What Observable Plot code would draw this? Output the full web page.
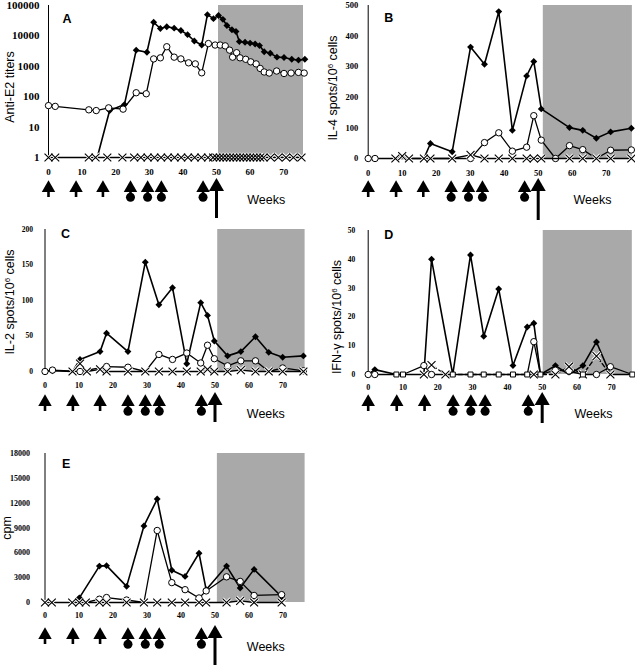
<!DOCTYPE html>
<html><head><meta charset="utf-8">
<script src="https://cdn.jsdelivr.net/npm/d3@7"></script>
<script src="https://cdn.jsdelivr.net/npm/@observablehq/plot@0.6"></script>
<style>
body{margin:0;background:#fff;}
#fig{position:relative;width:635px;height:665px;overflow:hidden;background:#fff;font-family:"Liberation Sans",Arial,sans-serif;}
.panel{position:absolute;}
.ylab{position:absolute;transform:translate(-50%,-50%) rotate(-90deg);white-space:nowrap;font-size:12.5px;color:#000;line-height:1;}
.ylab sup{font-size:8px;vertical-align:4px;line-height:0;}
</style></head><body><div id="fig"></div>
<script>
// ---------------- data ----------------
const weekTicks = [0, 10, 20, 30, 40, 50, 60, 70];
const immunizationWeeks = [0, 8.2, 16.2, 24.4, 29.5, 33.6, 46];
const boostWeeks = [24.4, 29.5, 33.6, 46];
const treatmentStartWeek = [50];

// Panel A: anti-E2 titers (log)
const aDiamondWeeks = [14.5, 18.2, 22.6, 26.1, 29.3, 31.3, 33.3, 35.2, 37.4, 39.4, 41.4, 43.4, 45.6, 47.3, 49.1, 50.6, 51.9, 53.1, 54.6, 55.8, 56.8, 58.5, 60, 61.5, 62.8, 64.2, 66, 68, 70.1, 72.4, 74.4, 76.3];
const aDiamondTiters = [1, 35, 55, 3400, 2900, 28000, 17500, 20000, 18000, 15000, 11000, 6800, 5000, 50000, 37000, 47000, 35000, 22000, 16000, 14000, 6500, 6200, 5800, 5400, 4800, 3000, 2700, 2000, 1950, 1700, 1600, 1700];
const aCircleWeeks = [0, 2, 12, 14.2, 17.9, 22.2, 26.1, 29.1, 31.3, 33.3, 35.2, 37.4, 39.4, 41.7, 43.7, 45.6, 47.6, 49.6, 51.1, 52.6, 53.9, 54.8, 56, 57, 58.7, 60.2, 61.8, 63, 64.2, 65.7, 67.9, 70.1, 72.2, 74.4, 76.1];
const aCircleTiters = [51, 48, 37, 35, 43, 39, 135, 125, 1750, 1900, 4400, 2000, 1750, 1300, 1200, 610, 5600, 5000, 5000, 4700, 3400, 2000, 2800, 1900, 1700, 1400, 1200, 850, 650, 600, 700, 580, 600, 630, 600];
const aCrossWeeks = [0, 2, 12, 14, 17.5, 22, 25.5, 27.5, 29.5, 31.5, 33.5, 35.5, 37.5, 39.5, 41.5, 43.5, 45.5, 47.5, 49, 50, 51, 52, 53, 54, 55, 56, 57, 58, 59, 60, 61, 62, 63, 64, 66.1, 68.4, 70.7, 72.9, 75.3];
const aCrossTiters = [1, 1, 1, 1, 1, 1, 1, 1, 1, 1, 1, 1, 1, 1, 1, 1, 1, 1, 1, 1, 1, 1, 1, 1, 1, 1, 1, 1, 1, 1, 1, 1, 1, 1, 1, 1, 1, 1, 1];
const aTicks = [1, 10, 100, 1000, 10000, 100000];
const aShade = [50.6, 75.9];

// Panel B: IL-4 spots
const bWeeks    = [0, 2, 8, 10, 12, 16.4, 18.3, 24.7, 30.1, 34.2, 38.4, 42.4, 46.6, 48.7, 50.9, 55.1, 59.2, 63.1, 67.1, 71.3, 77.4];
const bDiamond  = [null, null, null, null, null, 0, 49, 22, 364, 308, 480, 92, 270, 317, 162, null, 101, 92, 66, 87, 99];
const bCircle   = [0, 0, null, null, null, null, null, null, 0, 52, 84, 24, 37, 140, 60, 0, 42, 29, 0, 27, 28];
const bCross    = [null, null, 0, 8, 0, 0, 0, 0, 12, 0, 0, 0, 0, 0, 0, null, 0, 0, 0, 0, 0];
const bTicks = [0, 100, 200, 300, 400, 500];
const bShade = [51.5, 77.7];

// Panel C: IL-2 spots
const cWeeks    = [0, 2.2, 8.1, 10.3, 12.3, 16.2, 18.1, 24.4, 29.5, 33.5, 37.5, 41.7, 45.8, 47.8, 49.8, 53.7, 57.6, 61.9, 65.8, 69.9, 76];
const cDiamond  = [0, 1, 0, 17, null, 28, 54, 28, 154, 94, 118, 11, 97, 79, 43, 22, 28, 49, 27, 20, 22];
const cCircle   = [0, 2, null, 0, null, null, 7, 6, 0, 24, 17, 26, 12, 37, 18, 8, 15, 15, 0, 5, 1];
const cCross    = [null, null, 0, 11, 0, 3, 0, 0, 0, 0, 0, 0, 0, 3, 0, 0, 2, 0, 0, 0, 0];
const cTicks = [0, 50, 100, 150, 200];
const cShade = [50.8, 76.5];

// Panel D: IFN-gamma spots
const dWeeks    = [0, 1.9, 8.1, 10, 16, 18.2, 22.2, 24.3, 29.4, 33.2, 37.5, 41.6, 45.7, 47.6, 49.5, 53.8, 57.7, 61.7, 65.6, 69.6, 75.9];
const dDiamond  = [0, 1.7, 0, 0, 0, 40, null, 0, 41.5, 13.3, 29.7, 3.1, 16.5, 17.8, 0, 3.1, 0, 3.1, 11.3, 0, 0];
const dCircle   = [0, 0, 0, 0, 3.1, 0, null, 0, 0, 0, 0, 0, 0, 11.4, 0, 1.5, 1.2, 0, 0, 2.7, 0];
const dCross    = [null, null, null, null, 0, 3.3, 0, null, null, null, null, null, null, 0, null, 0, 2.7, 0, 6.4, 0, null];
const dSquareWeeks = [8.1, 10, 24.3, 29.4, 33.2, 37.5, 41.6, 45.7, 49.5, 61.7, 75.9];
const dSquareValues = [0, 0, 0, 0, 0, 0, 0, 0, 0, 0, 0];
const dTicks = [0, 10, 20, 30, 40, 50];
const dShade = [50.3, 75.9];

// Panel E: proliferation (cpm)
const eWeeks    = [0, 2, 8, 10.1, 12, 16, 18.1, 24, 29.1, 33, 37.3, 41.2, 45.3, 47.4, 53.4, 57.4, 61.5, 69.6];
const eDiamond  = [null, null, 0, 560, null, 4400, 4450, 1950, 9250, 12500, 3900, 3150, 5950, 1550, 4400, 1750, 4000, 700];
const eCircle   = [null, null, null, null, 0, 400, 600, 300, 0, 8700, 2400, 1550, 550, 1400, 3100, 2550, 850, 950];
const eCross    = [0, 0, 0, 0, 0, 0, 0, 0, 0, 0, 0, 0, 0, 0, 0, 200, 0, 0];
const eTicks = [0, 3000, 6000, 9000, 12000, 15000, 18000];
const eShade = [50.7, 76.5];

// ---------------- helpers ----------------
const SERIF = "Liberation Serif, Times New Roman, serif";
const SANS = "Liberation Sans, Arial, sans-serif";
const SHADE = "#a9a9a9";
const pts = (weeks, vals) => weeks.map((w, i) => ({w, v: vals[i]})).filter(d => d.v != null);
const fig = document.getElementById("fig");
function place(node, left, top) {
  const d = document.createElement("div");
  d.className = "panel"; d.style.left = left + "px"; d.style.top = top + "px";
  d.appendChild(node); fig.appendChild(d);
}
function ylab(html, cx, cy) {
  const d = document.createElement("div");
  d.className = "ylab"; d.style.left = cx + "px"; d.style.top = cy + "px";
  d.innerHTML = html; fig.appendChild(d);
}

function mainPlot(c) {
  const lo = c.yDomain[0];
  const crossLow = new Set(c.crosses.filter(d => d.v === lo).map(d => d.w));
  const sq = new Set((c.squares || []).map(d => d.w));
  const marks = [
    Plot.rect([c.shade], {x1: d => d[0], x2: d => d[1], fill: SHADE}),
    Plot.ruleX([c.xDomain[0]], {stroke: "black", strokeWidth: 1}),
    Plot.line(c.diamonds, {x: "w", y: "v", stroke: "black", strokeWidth: 1.6}),
    Plot.dot(c.diamonds.filter(d => d.v > lo), {x: "w", y: "v", symbol: "diamond2", r: 3.1, fill: "black"}),
    Plot.line(c.circles, {x: "w", y: "v", stroke: "black", strokeWidth: 1.3}),
    Plot.dot(c.circles.filter(d => !(d.v === lo && (crossLow.has(d.w) || sq.has(d.w)))), {x: "w", y: "v", r: 3.2, fill: "white", stroke: "black", strokeWidth: 1}),
    Plot.line(c.crosses, {x: "w", y: "v", stroke: "black", strokeWidth: 1.4, strokeDasharray: c.crossDash}),
    Plot.dot(c.crosses, {x: "w", y: "v", symbol: "times", r: 3.7, fill: "none", stroke: "white", strokeWidth: 3}),
    Plot.dot(c.crosses, {x: "w", y: "v", symbol: "times", r: 3.7, fill: "none", stroke: "black", strokeWidth: 1.1})
  ];
  if (c.squares) marks.push(Plot.dot(c.squares, {x: "w", y: "v", symbol: "square", r: 2.8, fill: "white", stroke: "black", strokeWidth: 1}));
  marks.push(
    Plot.axisX({ticks: weekTicks, tickSize: 0, tickPadding: c.xPad, fontSize: c.xFont, fontWeight: "bold", fontFamily: SERIF, fill: "black", label: null}),
    Plot.axisY({ticks: c.yTicks, tickSize: 0, tickPadding: c.yPad, fontSize: c.yFont, fontWeight: "bold", fontFamily: SERIF, fill: "black", label: null, tickFormat: d3.format("d")}),
    Plot.text([c.letter], {frameAnchor: "top-left", dx: c.letterDx, dy: c.letterDy, fontSize: 12.5, fontWeight: "bold", fontFamily: SANS, textAnchor: "start", lineAnchor: "top"})
  );
  return Plot.plot({
    width: c.width, height: c.height,
    marginLeft: c.mL, marginRight: c.mR, marginTop: c.mT, marginBottom: c.mB,
    x: {domain: c.xDomain},
    y: {type: c.yType || "linear", domain: c.yDomain},
    style: {overflow: "visible", background: "transparent", fontFamily: SANS, color: "black"},
    marks
  });
}

function arrowPlot(c) {
  const H = c.arrowH;
  return Plot.plot({
    width: c.width, height: H,
    marginLeft: c.mL, marginRight: c.mR, marginTop: 0, marginBottom: 0,
    x: {domain: c.xDomain, axis: null},
    style: {overflow: "visible", background: "transparent", fontFamily: SANS, color: "black"},
    marks: [
      Plot.ruleX(immunizationWeeks, {x: d => d, insetTop: 14, insetBottom: H - 21, stroke: "black", strokeWidth: 2.6}),
      Plot.dot(immunizationWeeks, {x: d => d, frameAnchor: "top", dy: 11.6, symbol: "triangle", r: 5, fill: "black"}),
      Plot.dot(boostWeeks, {x: d => d, frameAnchor: "top", dy: 20.8, r: 4.5, fill: "black"}),
      Plot.ruleX(treatmentStartWeek, {x: d => d, insetTop: 12, stroke: "black", strokeWidth: 3}),
      Plot.dot(treatmentStartWeek, {x: d => d, frameAnchor: "top", dy: 10.2, symbol: "triangle", r: 5.6, fill: "black"}),
      Plot.text(["Weeks"], {frameAnchor: "top-right", dx: -22, dy: 19, textAnchor: "end", fontSize: 12.5, fontFamily: SANS})
    ]
  });
}

const panels = [
  {letter: "A", left: 0, top: 0, width: 320, height: 179, mL: 48, mR: 13.3, mT: 5, mB: 22,
   xDomain: [0, 77], yType: "log", yDomain: [1, 100000], yTicks: aTicks, yFont: 11, yPad: 9, xFont: 9, xPad: 11,
   shade: aShade, letterDx: 14, letterDy: 9, arrowTop: 176, arrowH: 42,
   diamonds: pts(aDiamondWeeks, aDiamondTiters), circles: pts(aCircleWeeks, aCircleTiters), crosses: pts(aCrossWeeks, aCrossTiters),
   ylabel: "Anti-E2 titers", ylx: 10, yly: 87},
  {letter: "B", left: 320, top: 0, width: 315, height: 180, mL: 47.7, mR: 2.1, mT: 5, mB: 22,
   xDomain: [0, 78], yDomain: [0, 500], yTicks: bTicks, yFont: 8.5, yPad: 10, xFont: 8.5, xPad: 11,
   shade: bShade, letterDx: 16, letterDy: 8, arrowTop: 176, arrowH: 44,
   diamonds: pts(bWeeks, bDiamond), circles: pts(bWeeks, bCircle), crosses: pts(bWeeks, bCross),
   ylabel: "IL-4 spots/10<sup>6</sup> cells", ylx: 333, yly: 88},
  {letter: "C", left: 0, top: 222, width: 320, height: 171, mL: 44.5, mR: 13.7, mT: 7, mB: 22,
   xDomain: [0, 77], yDomain: [0, 200], yTicks: cTicks, yFont: 7.5, yPad: 12, xFont: 8, xPad: 11,
   shade: cShade, letterDx: 16, letterDy: 0, arrowTop: 390, arrowH: 32,
   diamonds: pts(cWeeks, cDiamond), circles: pts(cWeeks, cCircle), crosses: pts(cWeeks, cCross),
   ylabel: "IL-2 spots/10<sup>6</sup> cells", ylx: 10, yly: 302},
  {letter: "D", left: 320, top: 222, width: 315, height: 174, mL: 47.7, mR: 1.1, mT: 8, mB: 22,
   xDomain: [0, 76.5], yDomain: [0, 50], yTicks: dTicks, yFont: 7.5, yPad: 13, xFont: 8, xPad: 10,
   shade: dShade, letterDx: 16, letterDy: 0, arrowTop: 390, arrowH: 33, crossDash: "4,3",
   diamonds: pts(dWeeks, dDiamond), circles: pts(dWeeks, dCircle), crosses: pts(dWeeks, dCross), squares: pts(dSquareWeeks, dSquareValues),
   ylabel: "IFN-γ spots/10<sup>6</sup> cells", ylx: 337, yly: 317},
  {letter: "E", left: 0, top: 445, width: 320, height: 177, mL: 44.5, mR: 13.7, mT: 8, mB: 20,
   xDomain: [0, 77], yDomain: [0, 18000], yTicks: eTicks, yFont: 8, yPad: 15, xFont: 8, xPad: 10,
   shade: eShade, letterDx: 17, letterDy: 6, arrowTop: 623, arrowH: 42,
   diamonds: pts(eWeeks, eDiamond), circles: pts(eWeeks, eCircle), crosses: pts(eWeeks, eCross),
   ylabel: "cpm", ylx: 7, yly: 528}
];

for (const c of panels) {
  place(mainPlot(c), c.left, c.top);
  place(arrowPlot(c), c.left, c.arrowTop);
  ylab(c.ylabel, c.ylx, c.yly);
}
</script></body></html>
